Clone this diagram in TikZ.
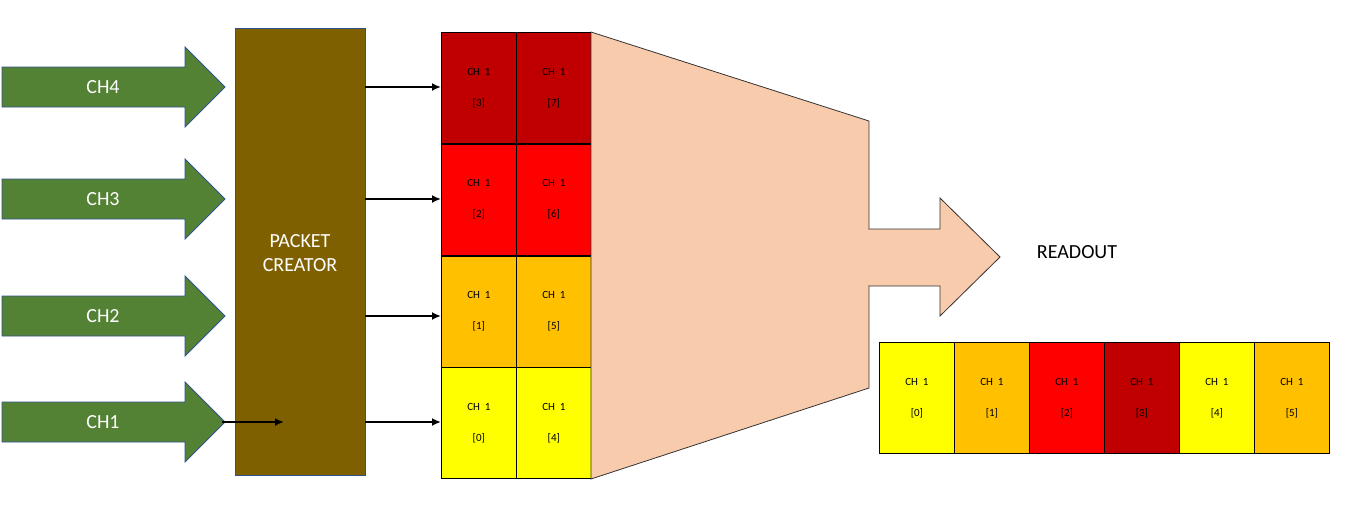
\documentclass[tikz,border=0pt]{standalone}
\usepackage{fontspec}
\setmainfont{Carlito}
\usetikzlibrary{arrows.meta}
\definecolor{grn}{HTML}{548235}
\definecolor{brn}{HTML}{7F6000}
\definecolor{bord}{HTML}{2F528F}
\definecolor{dred}{HTML}{C00000}
\definecolor{ored}{HTML}{FF0000}
\definecolor{org}{HTML}{FFC000}
\definecolor{yel}{HTML}{FFFF00}
\definecolor{peach}{HTML}{F8CBAD}
\begin{document}
\begin{tikzpicture}[x=1pt,y=-1pt,
  cell/.style={draw=black,line width=0.8pt,minimum width=75pt,minimum height=111pt,inner sep=0pt,anchor=north west,font=\fontsize{11}{11}\selectfont,align=center},
  conn/.style={line width=2.2pt,-{Latex[length=9pt,width=8pt]}},
  bigarrow/.style={fill=grn,draw=bord,line width=0.8pt}]
\useasboundingbox (0,0) rectangle (1371,507);
% input arrows
\foreach \y/\t in {87/CH4,199/CH3,316/CH2,422/CH1}{
  \draw[bigarrow] (2,\y-20) -- (185,\y-20) -- (185,\y-40) -- (225,\y) -- (185,\y+40) -- (185,\y+20) -- (2,\y+20) -- cycle;
  \node[text=white,font=\fontsize{20}{20}\selectfont] (in\t) at (103,\y) {\t};
}
\node[fill=brn,draw=bord,line width=0.8pt,minimum width=130pt,minimum height=447pt,anchor=north west,inner sep=0pt] (pc) at (235,28) {};
\node[text=white,font=\fontsize{20}{24}\selectfont,align=center] at (300,253) {PACKET\\CREATOR};
\coordinate (c1s) at (222,422);
\coordinate (c1e) at (284,422);
\draw[conn] (c1s) -- (c1e);
% grid
\foreach \r/\c/\a/\b in {0/dred/3/7,1/ored/2/6,2/org/1/5,3/yel/0/4}{
  \node[cell,fill=\c] (g\r a) at (441,32+111.75*\r) {CH\ \ 1\\[20pt][\a]};
  \node[cell,fill=\c] (g\r b) at (516,32+111.75*\r) {CH\ \ 1\\[20pt][\b]};
}
\foreach \r/\y in {0/87,1/199,2/316,3/422}{
  \coordinate (s\r) at (365,\y);
  \coordinate (e\r) at (441,\y);
  \draw[conn] (s\r) -- (e\r);
}
% trapezoid
\draw[fill=peach,draw=black!80,line width=0.8pt] (591,32) -- (869,121) -- (869,388) -- (591,479) -- cycle;
\draw[fill=peach,draw=black!80,line width=0.8pt] (869,229) -- (940,229) -- (940,198) -- (1000,257) -- (940,316) -- (940,286) -- (869,286);
\fill[peach] (867,230) rectangle (871,285);
\node[font=\fontsize{20}{20}\selectfont] (ro) at (1077,252) {READOUT};
% strip
\foreach \i/\c/\n in {0/yel/0,1/org/1,2/ored/2,3/dred/3,4/yel/4,5/org/5}{
  \node[cell,fill=\c] (s\i) at (879+75*\i,342) {CH\ \ 1\\[20pt][\n]};
}
\end{tikzpicture}
\end{document}
